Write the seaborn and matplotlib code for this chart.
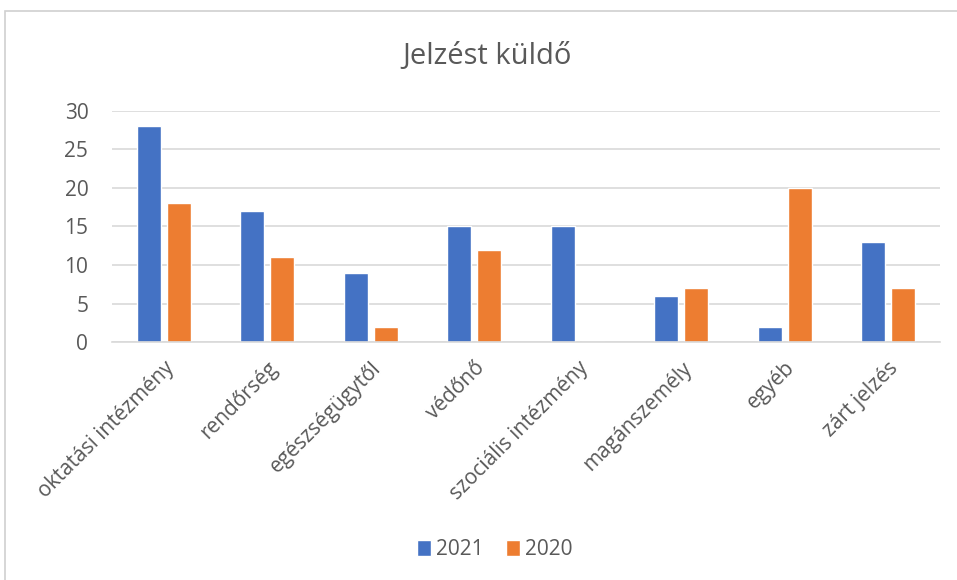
import pandas as pd
import matplotlib.pyplot as plt
import seaborn as sns
from matplotlib.patches import Rectangle

# chart data
categories = ['oktatási intézmény', 'rendőrség', 'egészségügytől', 'védőnő',
              'szociális intézmény', 'magánszemély', 'egyéb', 'zárt jelzés']
values_2021 = [28, 17, 9, 15, 15, 6, 2, 13]
values_2020 = [18, 11, 2, 12, 0, 7, 20, 7]
years = ['2021', '2020']

df = pd.DataFrame({
    'kategoria': categories * 2,
    'ev': [years[0]] * len(categories) + [years[1]] * len(categories),
    'ertek': values_2021 + values_2020,
})

sns.set_theme(style='white')
plt.rcParams['font.family'] = ['Open Sans', 'DejaVu Sans']
text_color = '#595959'

fig = plt.figure(figsize=(9.57, 5.80), dpi=100)
ax = fig.add_axes([0.117, 0.41, 0.865, 0.399])

sns.barplot(data=df, x='kategoria', y='ertek', hue='ev', order=categories,
            hue_order=years, palette=['#4472C4', '#ED7D31'],
            width=0.58, gap=0.2, saturation=1, ax=ax)

ax.set_ylim(0, 30)
ax.set_yticks(range(0, 31, 5))
ax.set_xlabel('')
ax.set_ylabel('')
ax.grid(axis='y', color='#D9D9D9', linewidth=1.2)
ax.set_axisbelow(True)
for side in ['top', 'right', 'left']:
    ax.spines[side].set_visible(False)
ax.spines['bottom'].set_color('#D9D9D9')
ax.spines['bottom'].set_linewidth(1.2)
ax.tick_params(axis='both', length=0, colors=text_color)
ax.tick_params(axis='y', pad=17, labelsize=15)
ax.tick_params(axis='x', pad=11, labelsize=15)
for lbl in ax.get_xticklabels():
    lbl.set_rotation(45)
    lbl.set_ha('right')
    lbl.set_rotation_mode('anchor')

fig.text(0.509, 0.903, 'Jelzést küldő', ha='center', va='center',
         fontsize=21, color=text_color)

handles, labels = ax.get_legend_handles_labels()
ax.legend_.remove()
fig.legend(handles, labels, loc='center', bbox_to_anchor=(0.517, 0.052),
           ncol=2, frameon=False, fontsize=15, handlelength=0.65,
           handleheight=0.75, handletextpad=0.25, columnspacing=1.1,
           labelcolor=text_color)

# light frame around the chart area
fig.patches.append(Rectangle((0.005, -0.01), 1.0, 0.991, transform=fig.transFigure,
                             fill=False, edgecolor='#D0D0D0', linewidth=1.2))

fig.savefig('out.png', dpi=100)
